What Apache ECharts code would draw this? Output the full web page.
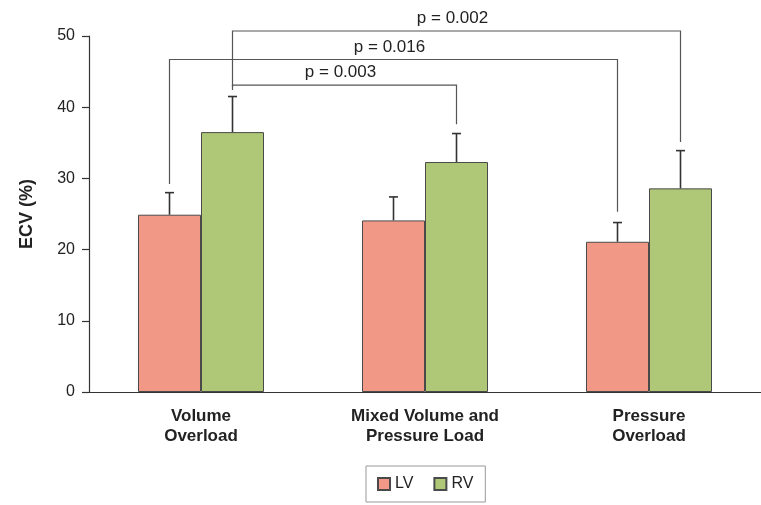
<!DOCTYPE html>
<html>
<head>
<meta charset="utf-8">
<script src="https://cdn.jsdelivr.net/npm/echarts@6/dist/echarts.min.js"></script>
<style>
html,body{margin:0;padding:0;background:#fff;}
#chart{width:761px;height:505px;}
</style>
</head>
<body>
<div id="chart"></div>
<script>
// ---- data ----
const categories = ['Volume\nOverload', 'Mixed Volume and\nPressure Load', 'Pressure\nOverload'];
const seriesNames = ['LV', 'RV'];
const lvMean = [24.9, 24.1, 21.1];
const lvUpper = [28.0, 27.4, 23.8];
const rvMean = [36.5, 32.3, 28.6];
const rvUpper = [41.5, 36.3, 33.9];
const yMin = 0, yMax = 50, yInterval = 10;

// significance brackets (category index, series index 0=LV 1=RV, y values)
const pLabels = ['p = 0.016', 'p = 0.002', 'p = 0.003'];
const pStartCat = [0, 0, 0];
const pStartSeries = [0, 1, 1];
const pEndCat = [2, 2, 1];
const pEndSeries = [0, 1, 1];
const pTop = [46.7, 50.7, 43.1];
const pStartFoot = [29.2, 42.8, 42.4];
const pEndFoot = [25.3, 35.1, 37.6];

// ---- style ----
const BAR_W = 63;
const FONT = 'Liberation Sans, Arial, Helvetica, sans-serif';
const LV_COLOR = '#F29886';
const RV_COLOR = '#AEC878';

const chart = echarts.init(document.getElementById('chart'), null, {renderer: 'canvas'});

function offsetFor(s) { return s === 0 ? -BAR_W / 2 : BAR_W / 2; }

function errRender(seriesIdx) {
  return function (params, api) {
    const c0 = api.coord([api.value(0), api.value(1)]);
    const c1 = api.coord([api.value(0), api.value(2)]);
    const x = c0[0] + offsetFor(seriesIdx);
    const st = {stroke: '#333', lineWidth: 1.6};
    return {
      type: 'group',
      children: [
        {type: 'line', shape: {x1: x, y1: c0[1], x2: x, y2: c1[1]}, style: st},
        {type: 'line', shape: {x1: x - 4.5, y1: c1[1], x2: x + 4.5, y2: c1[1]}, style: st}
      ]
    };
  };
}

function bracketRender(params, api) {
  const i = params.dataIndex;
  const a = api.coord([pStartCat[i], pTop[i]]);
  const b = api.coord([pEndCat[i], pTop[i]]);
  const af = api.coord([pStartCat[i], pStartFoot[i]]);
  const bf = api.coord([pEndCat[i], pEndFoot[i]]);
  const xa = a[0] + offsetFor(pStartSeries[i]);
  const xb = b[0] + offsetFor(pEndSeries[i]);
  const st = {stroke: '#555', lineWidth: 1.2, fill: null};
  return {
    type: 'group',
    children: [
      {type: 'polyline', shape: {points: [[xa, af[1]], [xa, a[1]], [xb, b[1]], [xb, bf[1]]]}, style: st},
      {type: 'text', x: (xa + xb) / 2 - 4, y: a[1] - 12.5,
       style: {text: pLabels[i], fill: '#222', font: '17px ' + FONT, align: 'center', verticalAlign: 'middle'}}
    ]
  };
}

const option = {
  animation: false,
  backgroundColor: '#fff',
  textStyle: {fontFamily: FONT},
  grid: {left: 89, right: 0, top: 36, bottom: 113, containLabel: false},
  legend: {
    data: seriesNames,
    left: 366, top: 466,
    orient: 'horizontal',
    itemWidth: 12, itemHeight: 12, itemGap: 20,
    padding: [10, 12, 10, 11],
    borderColor: '#999', borderWidth: 1,
    icon: 'rect',
    textStyle: {fontSize: 16, color: '#222', fontFamily: FONT, padding: [0, 0, 0, 0]}
  },
  xAxis: {
    type: 'category',
    data: categories,
    axisTick: {show: false},
    axisLine: {lineStyle: {color: '#333', width: 1.2}},
    axisLabel: {color: '#222', fontSize: 17, fontWeight: 'bold', lineHeight: 20, margin: 14, interval: 0, fontFamily: FONT}
  },
  yAxis: {
    type: 'value',
    min: yMin, max: yMax, interval: yInterval,
    name: 'ECV (%)',
    nameLocation: 'middle',
    nameRotate: 90,
    nameGap: 53,
    nameTextStyle: {fontSize: 18, fontWeight: 'bold', color: '#222', fontFamily: FONT},
    splitLine: {show: false},
    axisLine: {show: true, lineStyle: {color: '#333', width: 1.2}},
    axisTick: {show: true, length: 7, lineStyle: {color: '#333', width: 1.2}},
    axisLabel: {color: '#222', fontSize: 16, margin: 14, fontFamily: FONT}
  },
  series: [
    {
      name: 'LV', type: 'bar', data: lvMean, barWidth: BAR_W, barGap: '0%',
      itemStyle: {color: LV_COLOR, borderColor: '#4a4a4a', borderWidth: 1}
    },
    {
      name: 'RV', type: 'bar', data: rvMean, barWidth: BAR_W, barGap: '0%',
      itemStyle: {color: RV_COLOR, borderColor: '#4a4a4a', borderWidth: 1}
    },
    {
      type: 'custom', name: 'LV err', z: 5, silent: true,
      data: lvMean.map((m, i) => [i, m, lvUpper[i]]),
      renderItem: errRender(0), encode: {x: 0, y: [1, 2]}
    },
    {
      type: 'custom', name: 'RV err', z: 5, silent: true,
      data: rvMean.map((m, i) => [i, m, rvUpper[i]]),
      renderItem: errRender(1), encode: {x: 0, y: [1, 2]}
    },
    {
      type: 'custom', name: 'brackets', z: 6, silent: true, clip: false,
      data: pLabels.map((l, i) => [pStartCat[i], pTop[i]]),
      renderItem: bracketRender, encode: {x: 0, y: 1}
    }
  ]
};
chart.setOption(option);
</script>
</body>
</html>
